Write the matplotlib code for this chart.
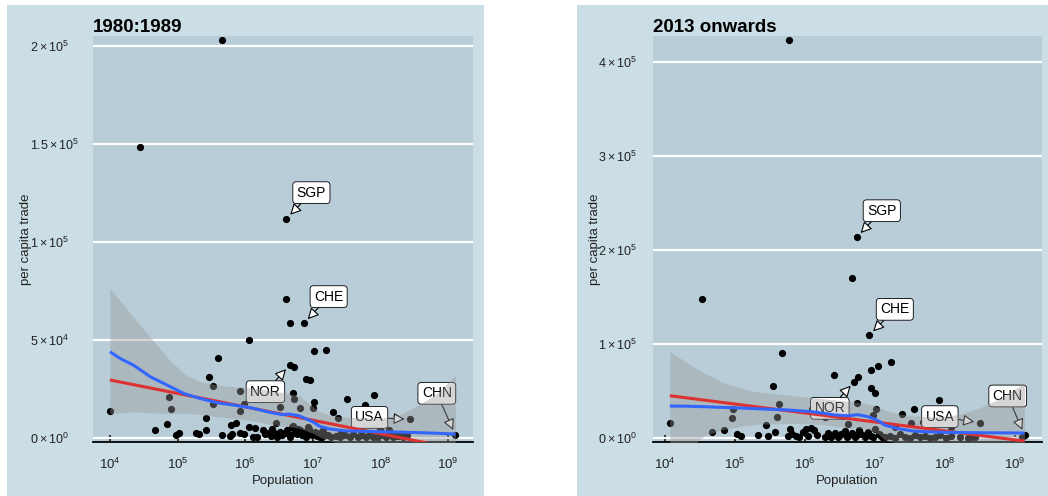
import numpy as np
import matplotlib
matplotlib.use("Agg")
import matplotlib.pyplot as plt
from matplotlib.patches import Rectangle
from matplotlib.ticker import NullLocator

plt.rcParams["font.family"] = ["Liberation Sans", "DejaVu Sans"]
plt.rcParams["mathtext.fontset"] = "custom"
plt.rcParams["mathtext.rm"] = "Liberation Sans"
plt.rcParams["mathtext.it"] = "Liberation Sans:italic"
plt.rcParams["mathtext.bf"] = "Liberation Sans:bold"

# ---------------------------------------------------------------- data
# 1980:1989 -- log10(population), per capita trade
pop80 = [5.665, 4.44, 6.61, 6.60, 6.67, 6.87, 6.06, 7.02, 7.20, 5.60, 6.66, 6.73,
         5.46, 6.905, 6.96, 5.52, 5.93, 6.71, 4.88, 6.72, 7.02, 4.90, 5.52, 5.92,
         5.98, 6.51, 6.81, 5.42, 7.00, 4.00, 4.67, 4.84, 4.975, 5.015, 5.28, 5.32,
         5.42, 5.665, 5.77, 5.80, 5.79, 5.87, 5.92, 5.98, 6.05, 6.14, 6.12, 6.17,
         6.26, 6.30, 6.33, 6.42, 6.46, 6.51, 6.55, 6.59, 6.62, 6.66, 6.70, 6.73,
         6.77, 6.81, 6.84, 6.88, 6.91, 6.95, 6.99, 7.03, 7.06, 7.10, 7.14, 7.18,
         7.22, 6.38, 6.40, 6.47, 6.67, 6.78, 6.90, 6.93, 7.10, 7.15, 6.45, 6.71,
         7.50, 7.91, 7.30, 7.78, 8.44, 7.37, 7.13, 7.27, 7.35, 7.41, 7.47, 7.545,
         7.59, 7.67, 7.73, 7.79, 7.84, 7.89, 7.95, 8.01, 8.09, 8.14, 8.19, 8.26,
         8.33, 8.39, 7.42, 7.72, 7.99, 8.13, 8.23, 8.29, 9.11]
trade80 = [203000, 148400, 111800, 70700, 58500, 58500, 50000, 44500, 44900, 40600,
           37200, 36400, 31000, 30100, 29600, 26500, 24000, 23100, 21100, 19700,
           18200, 14800, 17300, 13800, 17300, 15700, 15100, 10400, 15100, 13900,
           4100, 7000, 1500, 2400, 2700, 1900, 4100, 1500, 1200, 1900, 6600, 7800,
           2700, 2000, 5800, 4900, 700, 700, 4100, 2000, 2700, 2700, 2000, 3200,
           1500, 2400, 4100, 1500, 5800, 2700, 1900, 4100, 1400, 3200, 2000, 4400,
           1500, 3200, 1000, 2400, 2700, 1500, 1500, 800, 4600, 600, 600, 4600,
           600, 5700, 600, 4000, 7500, 6300, 19700, 21900, 13400, 16800, 9500,
           10000, 300, 700, 1000, 300, 1500, 700, 1900, 700, 1500, 700, 2400, 700,
           300, 1500, 700, 1900, 300, 1000, 700, 1500, 3000, 3700, 4400, 4000, 900,
           2200, 1500]

# 1980:1989 fitted curves (log10 population grid)
fit80_lx = [4.0, 4.15, 4.35, 4.6, 4.85, 5.1, 5.35, 5.6, 5.85, 6.1, 6.35, 6.55,
            6.65, 6.8, 7.0, 7.1, 7.25, 7.5, 8.0, 8.3, 8.6, 8.85, 9.11]
loess80 = [44000, 40600, 37100, 31200, 26900, 22600, 20000, 17900, 16700, 15300,
           13200, 11900, 12200, 11300, 8300, 6000, 4600, 3600, 3200, 3000, 2700,
           2400, 2000]
upper80 = [76300, 70000, 61500, 51300, 41000, 32600, 28500, 27000, 26100, 25500,
           24400, 23200, 22500, 21500, 16000, 13500, 11500, 10500, 10000, 12000,
           17500, 23000, 32100]
lower80 = [12600, 12800, 13400, 12800, 12600, 12600, 12000, 10800, 9800, 8800,
           7200, 6000, 5800, 5000, 2500, 500, -1500, -3500, -3600, -6000, -12000,
           -18000, -28000]
linear80_lx = [4.0, 9.11]
linear80 = [29600, -5400]

# 2013 onwards -- log10(population), per capita trade
pop13 = [5.776, 6.743, 4.529, 6.68, 6.92, 5.676, 7.23, 7.04, 6.95, 6.41, 6.76, 6.71,
         5.54, 6.94, 7.0, 7.92, 6.74, 5.633, 7.02, 7.56, 4.967, 6.10, 7.39, 6.98,
         6.29, 5.60, 4.962, 7.69, 8.50, 7.52, 4.07, 6.62, 5.45, 8.095, 7.285, 6.095,
         6.13, 4.847, 5.786, 6.01, 5.976, 4.667, 5.57, 5.81, 5.024, 5.086, 5.33,
         5.476, 5.76, 5.88, 5.91, 6.05, 6.167, 6.295, 6.333, 6.381, 6.43, 6.476,
         6.524, 6.581, 6.62, 6.676, 6.714, 6.771, 6.81, 6.857, 6.905, 6.952, 7.01,
         7.057, 7.105, 6.35, 6.50, 6.60, 6.74, 6.88, 6.98, 7.08, 7.071, 7.143,
         7.214, 7.285, 7.357, 7.428, 7.50, 7.571, 7.643, 7.714, 7.786, 7.857,
         7.929, 8.023, 8.095, 8.214, 8.333, 8.428, 8.38, 9.14, 9.10]
trade13 = [423400, 213800, 148200, 170600, 109200, 90100, 80500, 76600, 72300,
           67400, 65200, 59900, 55300, 53200, 48200, 40400, 37600, 36200, 30500,
           30900, 30500, 30500, 25200, 24500, 22000, 22000, 20900, 17400, 16300,
           15600, 15600, 14900, 13800, 12000, 12000, 10300, 8500, 8500, 9200, 9200,
           6700, 6400, 6400, 4300, 3900, 2100, 2800, 2100, 2100, 2100, 700, 2100,
           3200, 1400, 4900, 700, 5700, 1400, 4300, 7800, 2100, 5700, 1400, 8500,
           4300, 700, 6700, 2100, 9200, 4300, 1400, 2500, 3000, 800, 3300, 2800,
           600, 2700, 3200, 700, 2100, 200, 4300, 1400, 200, 2800, 700, 2100, 200,
           1400, 3600, 300, 2100, 700, 200, 1400, 900, 3200, 1000]

# 2013 onwards fitted curves
fit13_lx = [4.07, 4.33, 4.57, 4.81, 5.05, 5.29, 5.76, 6.1, 6.3, 6.43, 6.62, 6.76,
            6.9, 7.0, 7.07, 7.14, 7.31, 7.55, 7.79, 8.02, 8.26, 8.5, 8.74, 9.14]
loess13 = [34000, 33800, 33300, 32600, 32000, 31200, 29800, 28000, 26000, 24500,
           23700, 24800, 22700, 20000, 17400, 13800, 10300, 7400, 6500, 6000, 5800,
           5600, 5500, 5300]
upper13 = [91800, 79400, 68800, 59900, 53900, 49300, 45700, 43000, 41500, 40500,
           39000, 38000, 36000, 34000, 32000, 29800, 26000, 23500, 22700, 23000,
           26200, 32000, 40400, 58200]
lower13 = [-23800, -12000, 2500, 8500, 12000, 14500, 15600, 15200, 14000, 12500,
           11000, 10500, 9000, 6500, 3000, -2000, -5000, -8500, -10000, -11000,
           -14500, -21000, -30000, -48000]
linear13_lx = [4.07, 9.14]
linear13 = [45000, -3300]

# labelled countries: code, log10 population, trade
codes = ["SGP", "CHE", "NOR", "USA", "CHN"]
lab80_lx = [6.61, 6.87, 6.66, 8.44, 9.11]
lab80_y = [111800, 58500, 37200, 9500, 1500]
lab13_lx = [6.743, 6.92, 6.71, 8.50, 9.14]
lab13_y = [213800, 109200, 59900, 16300, 3200]

# ---------------------------------------------------------------- style
W, H = 1048, 496
OUTER = "#cbdee5"
PANEL = "#b8cdd7"


def sci_label(v):
    if v == 0:
        return r"$\mathregular{0\times10^{0}}$"
    e = int(np.floor(np.log10(v)))
    m = v / 10 ** e
    ms = f"{m:g}"
    return r"$\mathregular{" + ms + r"\times10^{" + str(e) + r"}}$"


def draw_panel(ax, title, px, py, flx, loess, up, lo, llx, lly, lab_lx, lab_y,
               label_pos, yticks, ylim, xlim, ytick_left_px, ylab_px, left_px):
    x = 10 ** np.asarray(px)
    ax.set_facecolor(PANEL)
    ax.set_xscale("log")
    ax.set_xlim(10 ** xlim[0], 10 ** xlim[1])
    ax.set_ylim(*ylim)
    ax.set_axisbelow(True)

    ax.scatter(x, py, s=27, color="black", linewidths=0, zorder=2)

    for code, lx, ly, (tx, ty) in zip(codes, lab_lx, lab_y, label_pos):
        ax.annotate(code, xy=(10 ** lx, ly), xytext=(10 ** tx, ty),
                    ha="center", va="center", fontsize=10, zorder=3,
                    bbox=dict(boxstyle="round,pad=0.28,rounding_size=0.25",
                              fc="white", ec="black", lw=0.6),
                    arrowprops=dict(arrowstyle="-|>,head_length=0.55,head_width=0.28",
                                    fc="white", ec="black", lw=0.8,
                                    shrinkA=0, shrinkB=4, mutation_scale=12))

    fx = 10 ** np.asarray(flx)
    ax.fill_between(fx, lo, up, color="#999999", alpha=0.4, lw=0, zorder=4)
    ax.plot(10 ** np.asarray(llx), lly, color="#dc3232", lw=2.2, zorder=5,
            solid_capstyle="butt")
    ax.plot(fx, loess, color="#3366ff", lw=2.2, zorder=6, solid_capstyle="butt")

    for s in ["top", "left", "right"]:
        ax.spines[s].set_visible(False)
    ax.spines["bottom"].set_color("black")
    ax.spines["bottom"].set_linewidth(1.3)

    ax.grid(axis="y", color="white", lw=1.6)
    ax.grid(axis="x", visible=False)

    xt = [1e4, 1e5, 1e6, 1e7, 1e8, 1e9]
    ax.set_xticks(xt, [r"$\mathregular{10^{%d}}$" % k for k in range(4, 10)])
    ax.xaxis.set_minor_locator(NullLocator())
    ax.tick_params(axis="x", direction="in", length=5, width=1.1, color="black",
                   labelsize=9.5, pad=11, labelcolor="#222222")

    ax.set_yticks(yticks, [sci_label(v) for v in yticks])
    pad_pt = (left_px - ytick_left_px) * 72 / 100
    ax.tick_params(axis="y", length=0, labelsize=9, pad=pad_pt, labelcolor="#222222")
    for t in ax.get_yticklabels():
        t.set_horizontalalignment("left")

    ax.set_xlabel("Population", fontsize=9.5, color="#222222")
    ax.xaxis.set_label_coords(0.5, -0.095)
    ax.xaxis.label.set_verticalalignment("center")

    width_px = ax.get_position().width * W
    ax.text((ylab_px - left_px) / width_px, 0.5, "per capita trade",
            rotation=90, ha="center", va="center", fontsize=9.5,
            color="#222222", transform=ax.transAxes)

    ax.set_title(title, loc="left", fontsize=13.5, fontweight="bold",
                 pad=3, color="black")


fig = plt.figure(figsize=(W / 100, H / 100), dpi=100, facecolor="white")

# outer panels
fig.patches.append(Rectangle((7 / W, 0), (484 - 7) / W, (H - 5) / H,
                             transform=fig.transFigure, fc=OUTER, ec="none",
                             zorder=-10))
fig.patches.append(Rectangle((577 / W, 0), (W - 577) / W, (H - 5) / H,
                             transform=fig.transFigure, fc=OUTER, ec="none",
                             zorder=-10))

top, bottom = 36, 442
ax1 = fig.add_axes([93 / W, 1 - bottom / H, (473 - 93) / W, (bottom - top) / H])
ax2 = fig.add_axes([653 / W, 1 - bottom / H, (1042 - 653) / W, (bottom - top) / H])

pos80 = [(6.98, 125100), (7.235, 72100), (6.30, 23600), (7.84, 10500), (8.835, 22800)]
pos13 = [(7.10, 241800), (7.286, 136900), (6.357, 31600), (7.93, 22700), (8.90, 44700)]

draw_panel(ax1, "1980:1989", pop80, trade80, fit80_lx, loess80, upper80, lower80,
           linear80_lx, linear80, lab80_lx, lab80_y, pos80,
           [0, 50000, 100000, 150000, 200000], (-2040, 205000), (3.75, 9.37),
           30, 26, 93)
draw_panel(ax2, "2013 onwards", pop13, trade13, fit13_lx, loess13, upper13, lower13,
           linear13_lx, linear13, lab13_lx, lab13_y, pos13,
           [0, 100000, 200000, 300000, 400000], (-4255, 427700), (3.83, 9.39),
           598, 595, 653)

fig.savefig("out.png", dpi=100, facecolor="white")
